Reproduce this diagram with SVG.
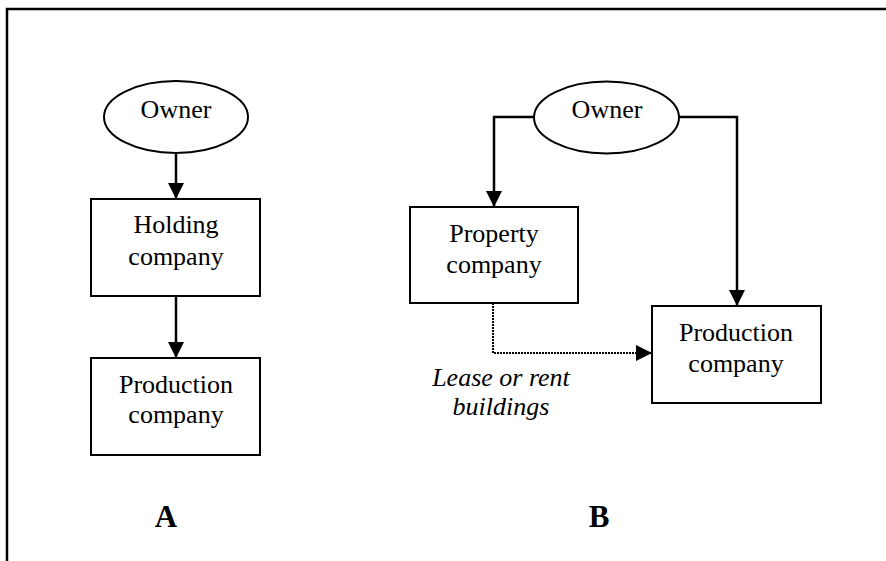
<svg xmlns="http://www.w3.org/2000/svg" width="886" height="561" viewBox="0 0 886 561">
<style>
.box{fill:#fff;stroke:#000;stroke-width:2}
.ell{fill:#fff;stroke:#000;stroke-width:2}
.t{font-family:"Liberation Serif","Times New Roman",serif;font-size:26px;fill:#000;text-anchor:middle}
.it{font-style:italic}
.lbl{font-family:"Liberation Serif","Times New Roman",serif;font-size:31px;font-weight:bold;fill:#000;text-anchor:middle}
.c{fill:none;stroke:#000;stroke-width:2.5}
.d{fill:none;stroke:#000;stroke-width:2;stroke-dasharray:2 1}
</style>
<defs>
<marker id="ah" markerUnits="userSpaceOnUse" markerWidth="16" markerHeight="16" viewBox="0 0 16 16" refX="16" refY="8" orient="auto">
<path d="M0,0 L16,8 L0,16 Z" fill="#000"/>
</marker>
</defs>
<g id="frame">
<path d="M7,561 L7,9 L886,9" fill="none" stroke="#000" stroke-width="2.5"/>
</g>
<g id="connectors">
<path class="c" d="M176,154 L176,199" marker-end="url(#ah)"/>
<path class="c" d="M176,296 L176,358" marker-end="url(#ah)"/>
<path class="c" d="M534,117 L494,117 L494,207" marker-end="url(#ah)"/>
<path class="c" d="M679,117 L737,117 L737,306" marker-end="url(#ah)"/>
<path class="d" d="M493,303 L493,353 L652,353" marker-end="url(#ah)"/>
</g>
<g id="ownerA">
<ellipse class="ell" cx="176" cy="117" rx="72" ry="36"/>
<text class="t" x="176" y="118">Owner</text>
</g>
<g id="holding">
<rect class="box" x="91" y="199" width="169" height="97"/>
<text class="t" x="176" y="233">Holding</text>
<text class="t" x="176" y="265">company</text>
</g>
<g id="productionA">
<rect class="box" x="91" y="358" width="169" height="97"/>
<text class="t" x="176" y="393">Production</text>
<text class="t" x="176" y="423">company</text>
</g>
<g id="ownerB">
<ellipse class="ell" cx="606.5" cy="117.5" rx="72.5" ry="36"/>
<text class="t" x="607" y="118">Owner</text>
</g>
<g id="property">
<rect class="box" x="410" y="207" width="168" height="96"/>
<text class="t" x="494" y="242">Property</text>
<text class="t" x="494" y="273">company</text>
</g>
<g id="productionB">
<rect class="box" x="652" y="306" width="169" height="97"/>
<text class="t" x="736" y="341">Production</text>
<text class="t" x="736" y="372">company</text>
</g>
<g id="leaseLabel">
<text class="t it" x="501" y="386">Lease or rent</text>
<text class="t it" x="501" y="415">buildings</text>
</g>
<g id="labels">
<text class="lbl" x="166" y="527">A</text>
<text class="lbl" x="599" y="527">B</text>
</g>
</svg>
